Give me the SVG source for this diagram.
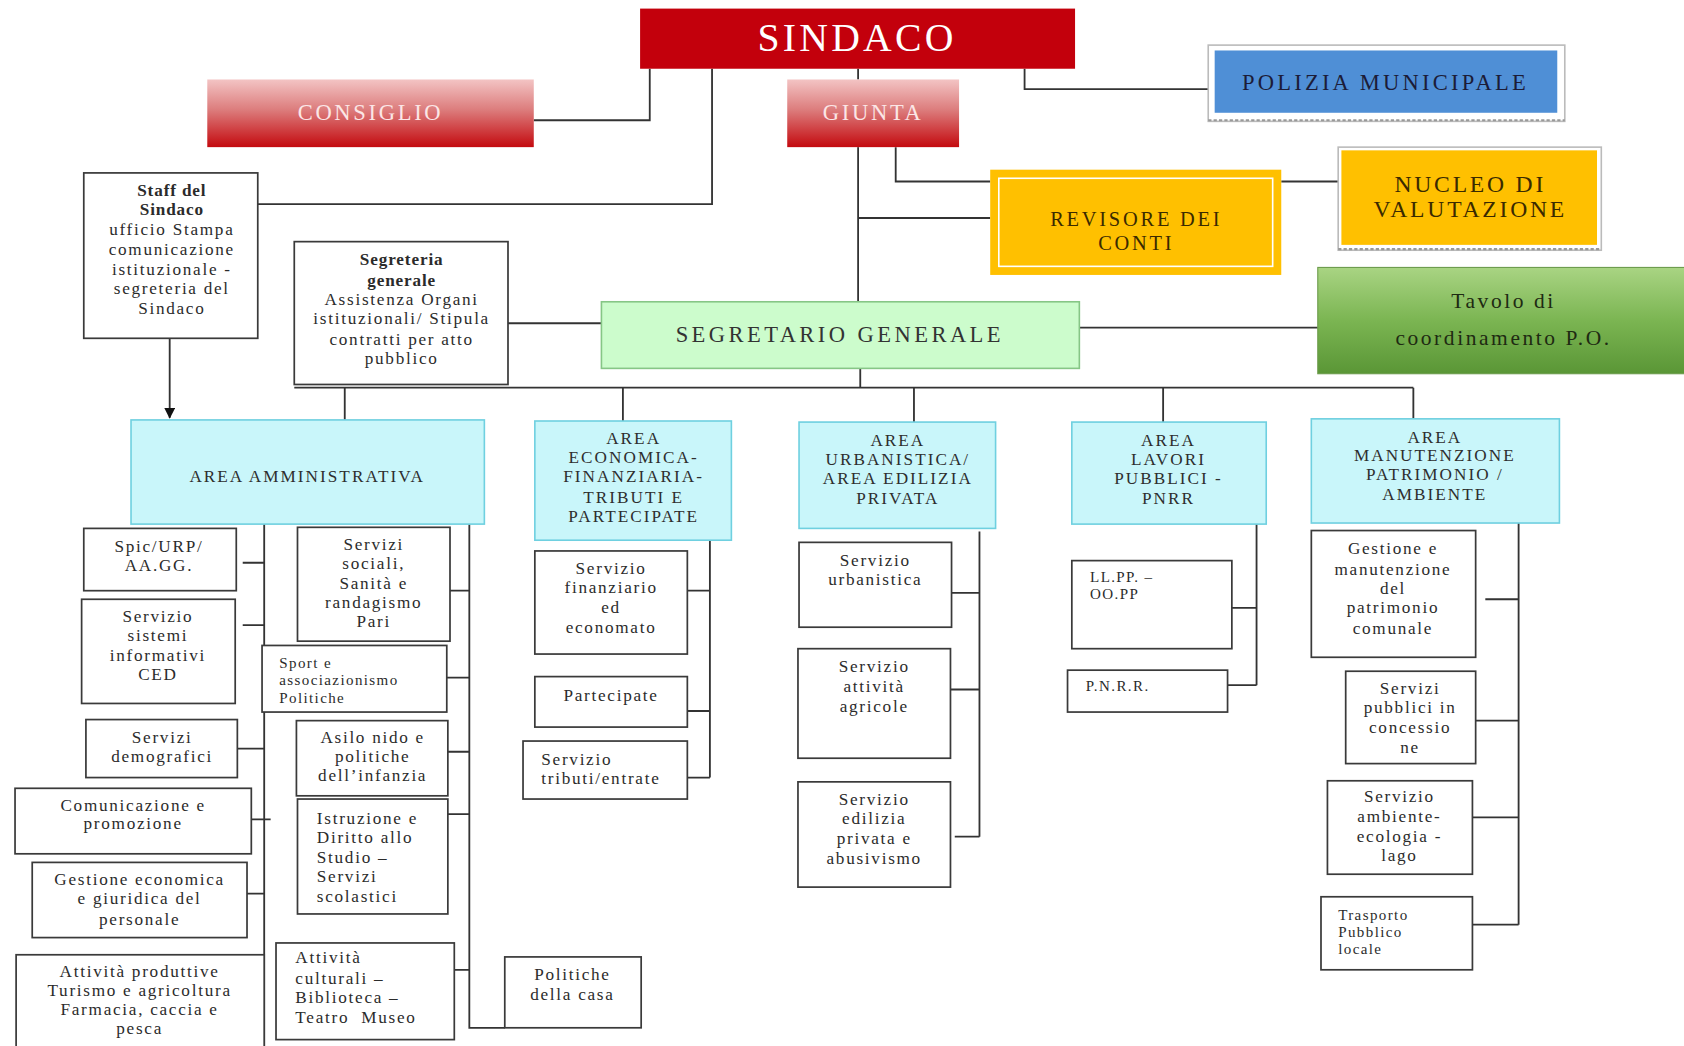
<svg xmlns="http://www.w3.org/2000/svg" width="1684" height="1046" viewBox="0 0 1684 1046">
<defs>
<linearGradient id="gRed" x1="0" y1="0" x2="0" y2="1">
<stop offset="0" stop-color="#f3c4c4"/><stop offset="0.45" stop-color="#dc7c7c"/><stop offset="1" stop-color="#c40a0f"/>
</linearGradient>
<linearGradient id="gGreen" x1="0" y1="0" x2="0" y2="1">
<stop offset="0" stop-color="#a9d483"/><stop offset="0.5" stop-color="#7bb552"/><stop offset="1" stop-color="#5a9636"/>
</linearGradient>
<marker id="arr" viewBox="0 0 10 10" refX="9" refY="5" markerWidth="11" markerHeight="10" orient="auto" markerUnits="userSpaceOnUse">
<path d="M0,0 L10,5 L0,10 z" fill="#111"/>
</marker>
<style>
text{font-family:"Liberation Serif","Times New Roman",serif;dominant-baseline:central;fill:#2b2b2b;white-space:pre}
.c{text-anchor:middle}
.box{fill:#fff;stroke:#3a3a3a;stroke-width:1.6}
.area{fill:#c9f6fa;stroke:#6fd0e0;stroke-width:1.5}
.t{font-size:16px;letter-spacing:1.6px}
.ts{font-size:14px;letter-spacing:1.3px}
.ta{font-size:16px;letter-spacing:1.9px;fill:#2e2e2e}
.b{font-weight:bold;letter-spacing:0.8px}
.ln{fill:none;stroke:#333;stroke-width:1.7}
.top{font-size:21px;letter-spacing:2.5px}
</style>
</defs>
<rect width="1684" height="1046" fill="#fff"/>
<g transform="scale(1.07398)">
<g id="connectors">
<path class="ln" d="M605,64 V112 H497"/>
<path class="ln" d="M663,64 V190 H240"/>
<path class="ln" d="M799,64 V74"/>
<path class="ln" d="M954,64 V83 H1131"/>
<path class="ln" d="M799,137 V281"/>
<path class="ln" d="M799,203 H922"/>
<path class="ln" d="M834,137 V169 H922"/>
<path class="ln" d="M1193,169 H1249"/>
<path class="ln" d="M473,301 H560"/>
<path class="ln" d="M1005,305 H1227"/>
<path class="ln" d="M158,315 V389" marker-end="url(#arr)"/>
<path class="ln" d="M801,343 V361"/>
<path class="ln" d="M274,361 H1316"/>
<path class="ln" d="M321,361 V391 M580,361 V392 M851,361 V393 M1083,361 V393 M1316,361 V390"/>
<path class="ln" d="M246,488 V974 M437,488 V957 H470"/>
<path class="ln" d="M226,524 H246 M226,582 H246 M221,697 H246 M234,763 H252 M230,832 H246"/>
<path class="ln" d="M419,550 H437 M416,631 H437 M417,700 H437 M417,758 H437 M423,903 H437"/>
<path class="ln" d="M661,503 V724 M640,550 H661 M640,662 H661 M637,724 H661"/>
<path class="ln" d="M912,495 V779 M886,552 H912 M885,642 H912 M889,779 H912"/>
<path class="ln" d="M1170,488 V638 M1147,566 H1170 M1143,638 H1170"/>
<path class="ln" d="M1414,487 V861 M1383,558 H1414 M1370,671 H1414 M1371,761 H1414 M1371,861 H1414"/>
</g>
<g id="sindaco">
<rect x="596" y="8" width="405" height="56" fill="#c3000c"/>
<text class="c" x="798" y="35" style="font-size:37px;letter-spacing:3px;fill:#fff">SINDACO</text>
</g>
<g id="polizia">
<rect x="1125" y="42" width="332" height="71" fill="#fff" stroke="#bbb" stroke-width="1.5"/>
<line x1="1125" y1="112" x2="1457" y2="112" stroke="#999" stroke-width="2" stroke-dasharray="3 2"/>
<rect x="1131" y="47" width="319" height="58" fill="#4f8fd6"/>
<text class="c top" x="1290" y="77" style="fill:#1c1c38;letter-spacing:3px">POLIZIA MUNICIPALE</text>
</g>
<g id="consiglio">
<rect x="193" y="74" width="304" height="63" fill="url(#gRed)"/>
<text class="c top" x="345" y="105" style="fill:#fbe6e6">CONSIGLIO</text>
</g>
<g id="giunta">
<rect x="733" y="74" width="160" height="63" fill="url(#gRed)"/>
<text class="c top" x="813" y="105" style="fill:#fbe6e6">GIUNTA</text>
</g>
<g id="staff">
<rect class="box" x="78" y="161" width="162" height="154"/>
<text class="c t b" x="160" y="177">Staff del</text>
<text class="c t b" x="160" y="195">Sindaco</text>
<text class="c t" x="160" y="214">ufficio Stampa</text>
<text class="c t" x="160" y="232">comunicazione</text>
<text class="c t" x="160" y="251">istituzionale -</text>
<text class="c t" x="160" y="269">segreteria del</text>
<text class="c t" x="160" y="287">Sindaco</text>
</g>
<g id="revisore">
<rect x="922" y="158" width="271" height="98" fill="#ffc000"/>
<rect x="930" y="166" width="255" height="82" fill="none" stroke="#fff" stroke-width="1.5"/>
<text class="c" x="1058" y="204" style="font-size:19px;letter-spacing:2.6px;fill:#3a2a00">REVISORE DEI</text>
<text class="c" x="1058" y="226" style="font-size:19px;letter-spacing:2.6px;fill:#3a2a00">CONTI</text>
</g>
<g id="nucleo">
<rect x="1246" y="137" width="245" height="96" fill="#fff" stroke="#bbb" stroke-width="1.5"/>
<line x1="1246" y1="232" x2="1491" y2="232" stroke="#999" stroke-width="2" stroke-dasharray="3 2"/>
<rect x="1249" y="140" width="238" height="88" fill="#ffc000"/>
<text class="c" x="1369" y="171" style="font-size:22px;letter-spacing:2.6px;fill:#3a2a00">NUCLEO DI</text>
<text class="c" x="1369" y="195" style="font-size:22px;letter-spacing:2.6px;fill:#3a2a00">VALUTAZIONE</text>
</g>
<g id="tavolo">
<rect x="1227" y="249" width="360" height="99" fill="url(#gGreen)" stroke="#6b9a4a" stroke-width="1"/>
<text class="c" x="1400" y="280" style="font-size:20px;letter-spacing:2.4px;fill:#1e2a12">Tavolo di</text>
<text class="c" x="1400" y="315" style="font-size:20px;letter-spacing:2.4px;fill:#1e2a12">coordinamento P.O.</text>
</g>
<g id="segreteria">
<rect class="box" x="274" y="225" width="199" height="133"/>
<text class="c t b" x="374" y="242">Segreteria</text>
<text class="c t b" x="374" y="261">generale</text>
<text class="c t" x="374" y="279">Assistenza Organi</text>
<text class="c t" x="374" y="297">istituzionali/ Stipula</text>
<text class="c t" x="374" y="316">contratti per atto</text>
<text class="c t" x="374" y="334">pubblico</text>
</g>
<g id="segretario">
<rect x="560" y="281" width="445" height="62" fill="#ccfccc" stroke="#86c686" stroke-width="1.5"/>
<text class="c" x="782" y="311" style="font-size:21px;letter-spacing:3.2px;fill:#333">SEGRETARIO GENERALE</text>
</g>
<g id="area-amministrativa">
<rect class="area" x="122" y="391" width="329" height="97"/>
<text class="c ta" x="286" y="444">AREA AMMINISTRATIVA</text>
</g>
<g id="area-economica">
<rect class="area" x="498" y="392" width="183" height="111"/>
<text class="c ta" x="590" y="408">AREA</text>
<text class="c ta" x="590" y="426">ECONOMICA-</text>
<text class="c ta" x="590" y="444">FINANZIARIA-</text>
<text class="c ta" x="590" y="463">TRIBUTI E</text>
<text class="c ta" x="590" y="481">PARTECIPATE</text>
</g>
<g id="area-urbanistica">
<rect class="area" x="744" y="393" width="183" height="99"/>
<text class="c ta" x="836" y="410">AREA</text>
<text class="c ta" x="836" y="428">URBANISTICA/</text>
<text class="c ta" x="836" y="446">AREA EDILIZIA</text>
<text class="c ta" x="836" y="464">PRIVATA</text>
</g>
<g id="area-lavori">
<rect class="area" x="998" y="393" width="181" height="95"/>
<text class="c ta" x="1088" y="410">AREA</text>
<text class="c ta" x="1088" y="428">LAVORI</text>
<text class="c ta" x="1088" y="446">PUBBLICI -</text>
<text class="c ta" x="1088" y="464">PNRR</text>
</g>
<g id="area-manutenzione">
<rect class="area" x="1221" y="390" width="231" height="97"/>
<text class="c ta" x="1336" y="407">AREA</text>
<text class="c ta" x="1336" y="424">MANUTENZIONE</text>
<text class="c ta" x="1336" y="442">PATRIMONIO /</text>
<text class="c ta" x="1336" y="460">AMBIENTE</text>
</g>
<g id="spic">
<rect class="box" x="78" y="492" width="142" height="58"/>
<text class="c t" x="148" y="509">Spic/URP/</text>
<text class="c t" x="148" y="527">AA.GG.</text>
</g>
<g id="ced">
<rect class="box" x="76" y="558" width="143" height="97"/>
<text class="c t" x="147" y="574">Servizio</text>
<text class="c t" x="147" y="592">sistemi</text>
<text class="c t" x="147" y="610">informativi</text>
<text class="c t" x="147" y="628">CED</text>
</g>
<g id="demografici">
<rect class="box" x="80" y="670" width="141" height="54"/>
<text class="c t" x="151" y="687">Servizi</text>
<text class="c t" x="151" y="704">demografici</text>
</g>
<g id="comunicazione">
<rect class="box" x="14" y="734" width="220" height="61"/>
<text class="c t" x="124" y="750">Comunicazione e</text>
<text class="c t" x="124" y="767">promozione</text>
</g>
<g id="personale">
<rect class="box" x="30" y="803" width="200" height="70"/>
<text class="c t" x="130" y="819">Gestione economica</text>
<text class="c t" x="130" y="837">e giuridica del</text>
<text class="c t" x="130" y="856">personale</text>
</g>
<g id="attivita-produttive">
<rect class="box" x="15" y="889" width="231" height="95"/>
<text class="c t" x="130" y="905">Attività produttive</text>
<text class="c t" x="130" y="922">Turismo e agricoltura</text>
<text class="c t" x="130" y="940">Farmacia, caccia e</text>
<text class="c t" x="130" y="958">pesca</text>
</g>
<g id="sociali">
<rect class="box" x="277" y="491" width="142" height="106"/>
<text class="c t" x="348" y="507">Servizi</text>
<text class="c t" x="348" y="525">sociali,</text>
<text class="c t" x="348" y="543">Sanità e</text>
<text class="c t" x="348" y="561">randagismo</text>
<text class="c t" x="348" y="579">Pari</text>
</g>
<g id="sport">
<rect class="box" x="244" y="601" width="172" height="62"/>
<text class="ts" x="260" y="617">Sport e</text>
<text class="ts" x="260" y="633">associazionismo</text>
<text class="ts" x="260" y="650">Politiche</text>
</g>
<g id="asilo">
<rect class="box" x="276" y="671" width="141" height="70"/>
<text class="c t" x="347" y="687">Asilo nido e</text>
<text class="c t" x="347" y="704">politiche</text>
<text class="c t" x="347" y="722">dell’infanzia</text>
</g>
<g id="istruzione">
<rect class="box" x="277" y="744" width="140" height="107"/>
<text class="t" x="295" y="762">Istruzione e</text>
<text class="t" x="295" y="780">Diritto allo</text>
<text class="t" x="295" y="798">Studio –</text>
<text class="t" x="295" y="816">Servizi</text>
<text class="t" x="295" y="835">scolastici</text>
</g>
<g id="cultura">
<rect class="box" x="257" y="878" width="166" height="90"/>
<text class="t" x="275" y="892">Attività</text>
<text class="t" x="275" y="911">culturali –</text>
<text class="t" x="275" y="929">Biblioteca –</text>
<text class="t" x="275" y="947">Teatro  Museo</text>
</g>
<g id="casa">
<rect class="box" x="470" y="891" width="127" height="66"/>
<text class="c t" x="533" y="907">Politiche</text>
<text class="c t" x="533" y="926">della casa</text>
</g>
<g id="finanziario">
<rect class="box" x="498" y="513" width="142" height="96"/>
<text class="c t" x="569" y="529">Servizio</text>
<text class="c t" x="569" y="547">finanziario</text>
<text class="c t" x="569" y="566">ed</text>
<text class="c t" x="569" y="584">economato</text>
</g>
<g id="partecipate">
<rect class="box" x="498" y="630" width="142" height="47"/>
<text class="c t" x="569" y="648">Partecipate</text>
</g>
<g id="tributi">
<rect class="box" x="487" y="690" width="153" height="54"/>
<text class="t" x="504" y="707">Servizio</text>
<text class="t" x="504" y="725">tributi/entrate</text>
</g>
<g id="urbanistica">
<rect class="box" x="744" y="505" width="142" height="79"/>
<text class="c t" x="815" y="522">Servizio</text>
<text class="c t" x="815" y="540">urbanistica</text>
</g>
<g id="agricole">
<rect class="box" x="743" y="604" width="142" height="102"/>
<text class="c t" x="814" y="621">Servizio</text>
<text class="c t" x="814" y="639">attività</text>
<text class="c t" x="814" y="658">agricole</text>
</g>
<g id="edilizia">
<rect class="box" x="743" y="728" width="142" height="98"/>
<text class="c t" x="814" y="744">Servizio</text>
<text class="c t" x="814" y="762">edilizia</text>
<text class="c t" x="814" y="781">privata e</text>
<text class="c t" x="814" y="799">abusivismo</text>
</g>
<g id="llpp">
<rect class="box" x="998" y="522" width="149" height="82"/>
<text class="ts" x="1015" y="537">LL.PP. –</text>
<text class="ts" x="1015" y="553">OO.PP</text>
</g>
<g id="pnrr">
<rect class="box" x="994" y="624" width="149" height="39"/>
<text class="ts" x="1011" y="639">P.N.R.R.</text>
</g>
<g id="patrimonio">
<rect class="box" x="1221" y="494" width="153" height="118"/>
<text class="c t" x="1297" y="511">Gestione e</text>
<text class="c t" x="1297" y="530">manutenzione</text>
<text class="c t" x="1297" y="548">del</text>
<text class="c t" x="1297" y="566">patrimonio</text>
<text class="c t" x="1297" y="585">comunale</text>
</g>
<g id="concessione">
<rect class="box" x="1253" y="625" width="121" height="86"/>
<text class="c t" x="1313" y="641">Servizi</text>
<text class="c t" x="1313" y="659">pubblici in</text>
<text class="c t" x="1313" y="677">concessio</text>
<text class="c t" x="1313" y="696">ne</text>
</g>
<g id="ambiente">
<rect class="box" x="1236" y="727" width="135" height="87"/>
<text class="c t" x="1303" y="742">Servizio</text>
<text class="c t" x="1303" y="760">ambiente-</text>
<text class="c t" x="1303" y="779">ecologia -</text>
<text class="c t" x="1303" y="797">lago</text>
</g>
<g id="trasporto">
<rect class="box" x="1230" y="835" width="141" height="68"/>
<text class="ts" x="1246" y="852">Trasporto</text>
<text class="ts" x="1246" y="868">Pubblico</text>
<text class="ts" x="1246" y="884">locale</text>
</g>
</g>
</svg>
